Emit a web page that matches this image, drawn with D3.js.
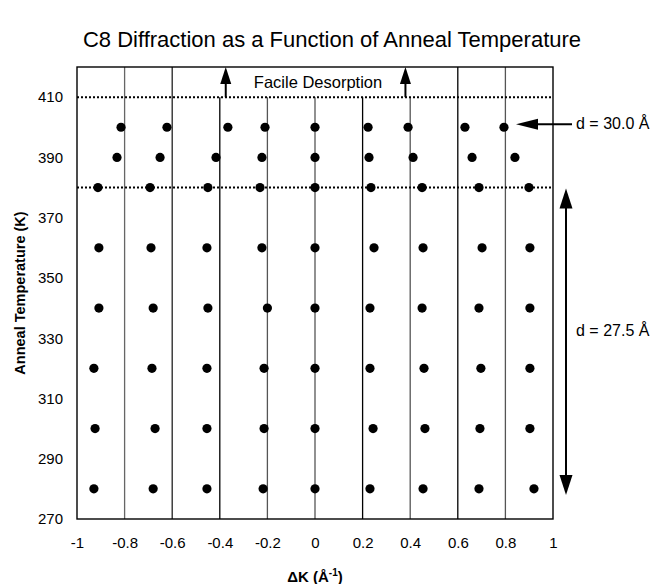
<!DOCTYPE html>
<html><head><meta charset="utf-8">
<script src="https://cdn.jsdelivr.net/npm/d3@7"></script>
<style>body{margin:0;background:#fff;} svg{display:block;font-family:"Liberation Sans",Arial,sans-serif;}</style>
</head><body>
<script>
// Data
const temperatures = [280, 300, 320, 340, 360, 380, 390, 400];
const peaks280 = [-0.929, -0.68, -0.454, -0.218, 0, 0.231, 0.454, 0.689, 0.92];
const peaks300 = [-0.924, -0.672, -0.454, -0.214, 0, 0.244, 0.462, 0.693, 0.903];
const peaks320 = [-0.929, -0.685, -0.454, -0.214, 0, 0.231, 0.458, 0.697, 0.903];
const peaks340 = [-0.908, -0.68, -0.45, -0.2, 0, 0.231, 0.45, 0.689, 0.903];
const peaks360 = [-0.908, -0.689, -0.454, -0.223, 0, 0.248, 0.454, 0.702, 0.903];
const peaks380 = [-0.912, -0.693, -0.45, -0.231, 0, 0.235, 0.45, 0.689, 0.899];
const peaks390 = [-0.832, -0.651, -0.416, -0.223, 0, 0.227, 0.412, 0.66, 0.84];
const peaks400 = [-0.815, -0.622, -0.366, -0.21, 0, 0.223, 0.391, 0.63, 0.794];
const peakRows = [peaks280, peaks300, peaks320, peaks340, peaks360, peaks380, peaks390, peaks400];
const xTicks = [-1, -0.8, -0.6, -0.4, -0.2, 0, 0.2, 0.4, 0.6, 0.8, 1];
const yTicks = [270, 290, 310, 330, 350, 370, 390, 410];
const gridLines = [-0.8, -0.6, -0.4, -0.2, 0, 0.2, 0.4, 0.6, 0.8];
const gridColors = ["#666", "#222", "#000", "#555", "#555", "#000", "#555", "#000", "#555"];
const boundaryTemps = [410, 380];

const W = 655, H = 584;
const FONT = "Liberation Sans, Arial, sans-serif";
const svg = d3.select("body").append("svg").attr("width", W).attr("height", H);
const x = d3.scaleLinear().domain([-1, 1]).range([77, 553]);
const y = d3.scaleLinear().domain([270, 420]).range([519, 67]);

// title
svg.append("text").attr("x", 332).attr("y", 47).attr("text-anchor", "middle")
  .style("font-size", "22px").text("C8 Diffraction as a Function of Anneal Temperature");

// vertical grid lines
svg.selectAll("line.grid").data(gridLines).join("line").attr("class", "grid")
  .attr("x1", d => x(d)).attr("x2", d => x(d))
  .attr("y1", y(270))
  .attr("y2", d => (d >= -0.45 && d <= 0.45) ? y(410) : y(420))
  .attr("stroke", (d, i) => gridColors[i]).attr("stroke-width", 1.3);

// frame
svg.append("rect").attr("x", x(-1)).attr("y", y(420)).attr("width", x(1) - x(-1)).attr("height", y(270) - y(420))
  .attr("fill", "none").attr("stroke", "#000").attr("stroke-width", 1.4);

// dotted lines
svg.selectAll("line.dot").data(boundaryTemps).join("line").attr("class", "dot")
  .attr("x1", x(-1)).attr("x2", x(1)).attr("y1", d => y(d)).attr("y2", d => y(d))
  .attr("stroke", "#000").attr("stroke-width", 2).attr("stroke-dasharray", "2,2");

// axes
const gy = svg.append("g").attr("transform", `translate(${x(-1)},0)`)
  .call(d3.axisLeft(y).tickValues(yTicks).tickSize(0).tickPadding(14).tickFormat(d => String(d)));
gy.select(".domain").remove();
gy.selectAll("text").style("font-size", "15px").style("font-family", FONT).attr("fill", "#000");
const gx = svg.append("g").attr("transform", `translate(0,${y(270)})`)
  .call(d3.axisBottom(x).tickValues(xTicks).tickSize(0).tickPadding(18).tickFormat(d => String(d)));
gx.select(".domain").remove();
gx.selectAll("text").style("font-size", "15px").style("font-family", FONT).attr("fill", "#000");

// points
const pts = [];
peakRows.forEach((row, i) => row.forEach(v => pts.push({k: v, t: temperatures[i]})));
svg.selectAll("circle.pt").data(pts).join("circle").attr("class", "pt")
  .attr("cx", d => x(d.k)).attr("cy", d => y(d.t)).attr("r", 4.6).attr("fill", "#000");

// axis labels
svg.append("text").attr("transform", `translate(25,${(y(270) + y(420)) / 2}) rotate(-90)`)
  .attr("text-anchor", "middle").style("font-size", "14.5px").style("font-weight", "bold")
  .text("Anneal Temperature (K)");
const xl = svg.append("text").attr("x", x(0)).attr("y", 582).attr("text-anchor", "middle")
  .style("font-size", "15px").style("font-weight", "bold");
xl.append("tspan").text("ΔK (Å");
xl.append("tspan").attr("dy", -6).style("font-size", "10px").text("-1");
xl.append("tspan").attr("dy", 6).text(")");

function triUp(cx, tipY, w, h) { return `M${cx},${tipY} L${cx - w / 2},${tipY + h} L${cx + w / 2},${tipY + h} Z`; }
function triDown(cx, tipY, w, h) { return `M${cx},${tipY} L${cx - w / 2},${tipY - h} L${cx + w / 2},${tipY - h} Z`; }
function triLeft(tipX, cy, w, h) { return `M${tipX},${cy} L${tipX + h},${cy - w / 2} L${tipX + h},${cy + w / 2} Z`; }

// Facile desorption
svg.append("text").attr("x", 318).attr("y", 88).attr("text-anchor", "middle").style("font-size", "16.5px").text("Facile Desorption");
[x(-0.375), x(0.38)].forEach(ax => {
  svg.append("line").attr("x1", ax).attr("x2", ax).attr("y1", y(410)).attr("y2", 80).attr("stroke", "#000").attr("stroke-width", 2);
  svg.append("path").attr("d", triUp(ax, 67, 11, 17)).attr("fill", "#000");
});

// d = 30.0 arrow
svg.append("line").attr("x1", 572).attr("x2", 530).attr("y1", y(401)).attr("y2", y(401)).attr("stroke", "#000").attr("stroke-width", 2);
svg.append("path").attr("d", triLeft(516, y(401), 11, 22)).attr("fill", "#000");
svg.append("text").attr("x", 576).attr("y", y(401) + 5).style("font-size", "16px").text("d = 30.0 Å");

// d = 27.5 double arrow
const dx = 566;
svg.append("line").attr("x1", dx).attr("x2", dx).attr("y1", y(380) + 15).attr("y2", y(279) - 15).attr("stroke", "#000").attr("stroke-width", 2);
svg.append("path").attr("d", triUp(dx, y(380) + 1, 13, 20)).attr("fill", "#000");
svg.append("path").attr("d", triDown(dx, y(278), 13, 20)).attr("fill", "#000");
svg.append("text").attr("x", 576).attr("y", 336).style("font-size", "16px").text("d = 27.5 Å");
</script>
</body></html>
